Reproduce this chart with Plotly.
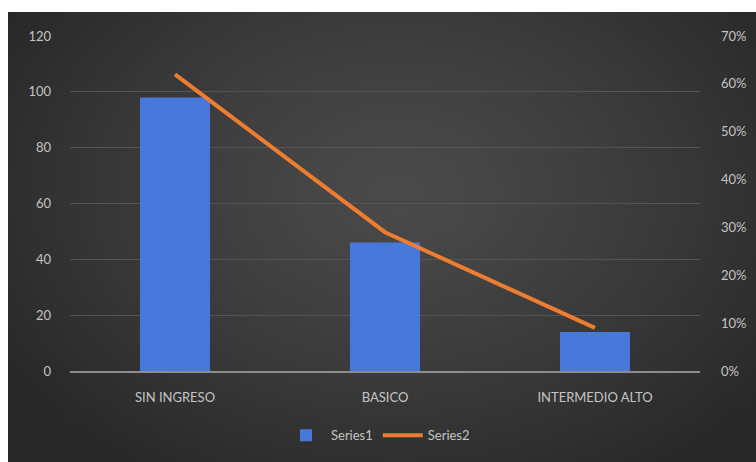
import base64, struct, zlib
import numpy as np
import plotly.graph_objects as go

categories = ["SIN INGRESO", "BASICO", "INTERMEDIO ALTO"]
series1 = [98, 46, 14]
series2 = [0.62, 0.29, 0.09]
left_ticks = [0, 20, 40, 60, 80, 100, 120]
right_ticks = [0, 0.1, 0.2, 0.3, 0.4, 0.5, 0.6, 0.7]

W, H = 756, 462
ML, MR, MT, MB = 70, 56, 36, 91
PW, PH = W - ML - MR, H - MT - MB


def gradient_png(w, h):
    yy, xx = np.mgrid[0:h, 0:w].astype(float)
    cx, cy = w * 0.52, h * 0.40
    d = np.sqrt(((xx - cx) / (w * 0.62)) ** 2 + ((yy - cy) / (h * 0.75)) ** 2)
    d = np.clip(d, 0, 1)
    v = 0x4a - (0x4a - 0x28) * d ** 1.3
    v = np.clip(v, 0, 255).astype(np.uint8)
    rgb = np.stack([v, v, v], axis=-1)
    raw = b"".join(b"\x00" + rgb[r].tobytes() for r in range(h))

    def chunk(t, data):
        c = struct.pack(">I", len(data)) + t + data
        return c + struct.pack(">I", zlib.crc32(t + data) & 0xffffffff)

    png = b"\x89PNG\r\n\x1a\n" + chunk(b"IHDR", struct.pack(">IIBBBBB", w, h, 8, 2, 0, 0, 0))
    png += chunk(b"IDAT", zlib.compress(raw, 9)) + chunk(b"IEND", b"")
    return "data:image/png;base64," + base64.b64encode(png).decode()


bg_x0, bg_y0 = 8, 12
img_w, img_h = W - bg_x0, H - bg_y0
img_src = gradient_png(img_w // 2, img_h // 2)

fig = go.Figure()
fig.add_trace(go.Bar(
    x=categories, y=series1, name="Series1",
    marker=dict(color="#4879da", line=dict(width=0)),
    yaxis="y",
))
fig.add_trace(go.Scatter(
    x=categories, y=series2, name="Series2", mode="lines",
    line=dict(color="#ed7d31", width=4),
    yaxis="y2",
))

tickfont = dict(family="Lato, Open Sans, sans-serif", size=13, color="#c4c4c4")

fig.update_layout(
    width=W, height=H,
    margin=dict(l=ML, r=MR, t=MT, b=MB, autoexpand=False),
    paper_bgcolor="white",
    plot_bgcolor="rgba(0,0,0,0)",
    bargap=0.667,
    showlegend=True,
    legend=dict(orientation="h", x=0.5, xanchor="center", xref="container",
                y=0.058, yanchor="middle", yref="container",
                font=tickfont, bgcolor="rgba(0,0,0,0)", itemwidth=40),
    xaxis=dict(showgrid=False, tickfont=tickfont, showline=True, linecolor="#8c8c8c",
               linewidth=1.5, ticks="", ticklabelstandoff=14, automargin=False),
    yaxis=dict(range=[0, 120], tickvals=left_ticks, showgrid=True, gridcolor="#555555",
               gridwidth=1, zeroline=False, tickfont=tickfont, ticklabelstandoff=18,
               showline=False, automargin=False),
    yaxis2=dict(range=[0, 0.7], tickvals=right_ticks, tickformat=".0%", overlaying="y",
                side="right", showgrid=False, zeroline=False, tickfont=tickfont,
                ticklabelstandoff=20, showline=False, automargin=False),
    images=[dict(
        source=img_src, xref="paper", yref="paper",
        x=(bg_x0 - ML) / PW, y=(H - MB - bg_y0) / PH,
        sizex=img_w / PW, sizey=img_h / PH,
        xanchor="left", yanchor="top", sizing="stretch", layer="below",
    )],
)

fig.write_html("out.html")
